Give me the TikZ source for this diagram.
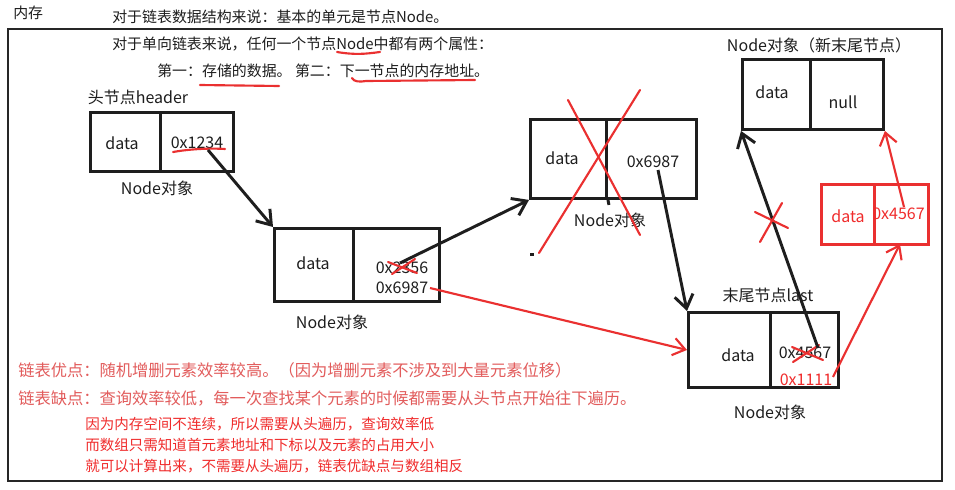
\documentclass[tikz,border=0pt]{standalone}
\usepackage{fontspec}
\setmainfont{Noto Sans CJK SC}
\usetikzlibrary{arrows.meta}
\definecolor{rd}{RGB}{234,48,48}
\definecolor{rtA}{RGB}{226,92,92}
\definecolor{rtB}{RGB}{240,44,44}
\definecolor{ink}{RGB}{30,30,30}
\begin{document}
\begin{tikzpicture}[x=0.75pt,y=-0.75pt,
  cell/.style={draw=ink, line width=2.2pt, inner sep=0pt, anchor=north west},
  rcell/.style={draw=rd, line width=2.2pt, inner sep=0pt, anchor=north west},
  cw/.style={minimum width=#1*0.75pt},
  ch/.style={minimum height=#1*0.75pt},
  lbl/.style={font=\fontsize{12pt}{14pt}\selectfont, text=ink, inner sep=0pt},
  rlbl/.style={font=\fontsize{12pt}{14pt}\selectfont, text=rtB, inner sep=0pt},
  toptxt/.style={font=\fontsize{11.2pt}{13pt}\selectfont, text=ink, inner sep=0pt, anchor=west},
  redA/.style={font=\fontsize{12.2pt}{14pt}\selectfont, text=rtA, inner sep=0pt, anchor=west},
  redB/.style={font=\fontsize{10.9pt}{12pt}\selectfont, text=rtB, inner sep=0pt, anchor=west},
  blk/.style={draw=ink, line width=2.2pt, -{Straight Barb[length=10pt,width=14pt]}},
  rarr/.style={draw=rd, line width=1.6pt, -{Straight Barb[length=9pt,width=13pt]}},
  rline/.style={draw=rd, line width=1.6pt, line cap=round},
]
\useasboundingbox (0,0) rectangle (955,489);
\fill[white] (0,0) rectangle (955,489);
% outer frame
\draw[draw=black!85, line width=1.3pt] (8,29) rectangle (942,481);

% top texts
\node[toptxt] (mem) at (13,13) {内存};
\node[toptxt] (l1) at (112,17) {对于链表数据结构来说：基本的单元是节点Node。};
\node[toptxt] (l2) at (112,44) {对于单向链表来说，任何一个节点Node中都有两个属性：};
\node[toptxt] (l3) at (157,71) {第一：存储的数据。 第二：下一节点的内存地址。};
\draw[rline] (337,52) .. controls (355,55) and (365,54) .. (380,52);
\draw[rline] (200,85) -- (279,86);
\draw[rline] (352,78) .. controls (354,82) and (360,82) .. (366,81) -- (475,80);

% header node
\node[cell, cw=70, ch=59] (hd) at (89,111) {};
\node[cell, cw=73, ch=59] (hp) at (159,111) {};
\node[lbl] (hdt) at (122,143) {data};
\node[lbl] (hpt) at (197,143) {0x1234};
\node[lbl] (hlab) at (138,97) {头节点header};
\node[lbl] (hobj) at (157,188) {Node对象};
\draw[rline] (173,152) .. controls (190,149) and (210,148) .. (225,149);

% node 2
\node[cell, cw=79, ch=73] (n2d) at (273,227) {};
\node[cell, cw=86, ch=73] (n2p) at (352,227) {};
\node[lbl] (n2dt) at (313,263) {data};
\node[lbl] (n2a) at (402,268) {0x2356};
\node[lbl] (n2b) at (402,288) {0x6987};
\node[lbl] (n2obj) at (332,322) {Node对象};
\draw[rline] (388,262) -- (417,273);
\draw[rline] (392,274) -- (415,259);

% node 3 (crossed out)
\node[cell, cw=76, ch=79] (n3d) at (529,118) {};
\node[cell, cw=90, ch=79] (n3p) at (605,118) {};
\draw[draw=ink, line width=2.2pt] (n3d.south east) -- ++(1,5);
\node[lbl] (n3dt) at (562,158) {data};
\node[lbl] (n3pt) at (653,162) {0x6987};
\node[lbl] (n3obj) at (610,220) {Node对象};
\draw[rline] (568,100) -- (640,235);
\draw[rline] (640,90) -- (539,253);
\fill[ink] (530,252.5) rectangle (534,256);

% new tail node
\node[cell, cw=68, ch=70] (ntd) at (741,58) {};
\node[cell, cw=73, ch=70] (ntp) at (809,58) {};
\node[lbl] (ntdt) at (772,92) {data};
\node[lbl] (ntpt) at (843,102) {null};
\node[lbl] (ntlab) at (819,45) {Node对象（新末尾节点）};

% red new node
\node[rcell, cw=53, ch=60] (rdd) at (820,183) {};
\node[rcell, cw=54, ch=60] (rdp) at (873,183) {};
\node[rlbl] (rddt) at (848,216) {data};
\begin{scope}
\clip (874.5,185) rectangle (926,241);
\node[rlbl, anchor=west] (rdpt) at (872,214) {0x4567};
\end{scope}

% last node
\node[cell, cw=82, ch=75] (ld) at (687,311) {};
\node[cell, cw=68, ch=75] (lp) at (769,311) {};
\node[lbl] (ldt) at (738,355) {data};
\node[lbl] (lpa) at (805,353) {0x4567};
\node[rlbl] (lpb) at (806,380) {0x1111};
\node[lbl] (llab) at (768,295) {末尾节点last};
\node[lbl] (lobj) at (770,412) {Node对象};
\draw[rline] (792,347) -- (823,360);
\draw[rline] (793,362) -- (819,345);

% connector start points
\coordinate (s1) at (208,150);
\coordinate (s2) at (400,263);
\coordinate (s3) at (658,170);
\coordinate (s4) at (818,348);
\coordinate (r1) at (430,288);
\coordinate (r2) at (833,377);
\coordinate (r3) at (904,207);
\coordinate (rdin) at (900,244);

% black connectors
\draw[blk] (s1) -- (n2d.north west);
\draw[blk] (s2) -- (n3d.south west);
\draw[blk] (s3) -- (ld.north west);
\draw[blk] (s4) -- (ntd.south west);
% red cross on old link
\draw[rline] (755,212) -- (788,228);
\draw[rline] (782,203) -- (760,242);

% red connectors
\draw[rarr] (r1) -- (ld.west);
\draw[rarr] (r2) -- (rdin);
\draw[rarr] (r3) -- (ntp.south east);

% bottom red texts
\node[redA] (p1) at (18,370) {链表优点：随机增删元素效率较高。（因为增删元素不涉及到大量元素位移）};
\node[redA] (p2) at (18,398) {链表缺点：查询效率较低，每一次查找某个元素的时候都需要从头节点开始往下遍历。};
\node[redB] (p3) at (85,424) {因为内存空间不连续，所以需要从头遍历，查询效率低};
\node[redB] (p4) at (85,445) {而数组只需知道首元素地址和下标以及元素的占用大小};
\node[redB] (p5) at (85,466) {就可以计算出来，不需要从头遍历，链表优缺点与数组相反};
\end{tikzpicture}
\end{document}
